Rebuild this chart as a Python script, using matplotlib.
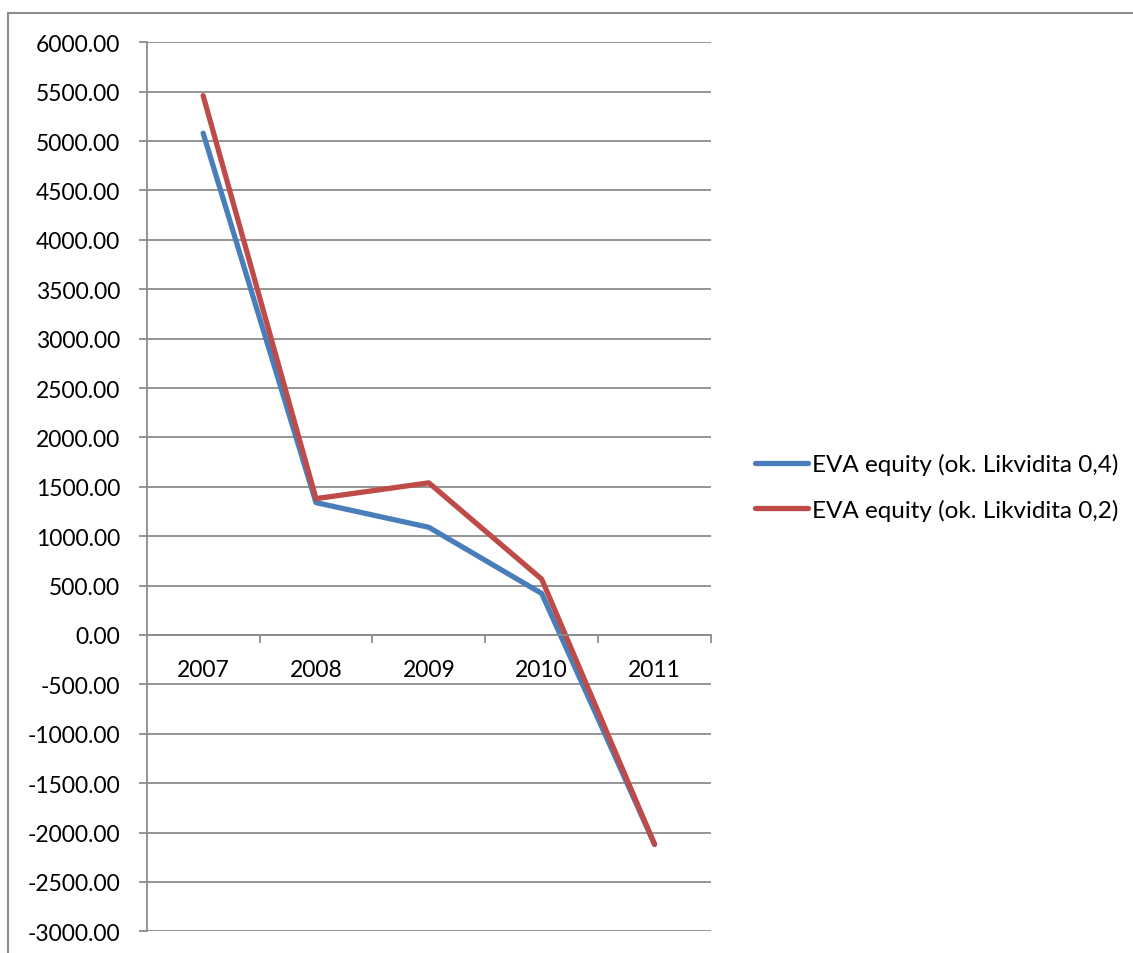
"""
EVA equity for two liquidity ratio settings, 2007-2011.
"""

import matplotlib
matplotlib.use('Agg')
import matplotlib.pyplot as plt
from matplotlib.patches import Rectangle
from matplotlib.ticker import FixedLocator, FuncFormatter

# Data
years = ['2007', '2008', '2009', '2010', '2011']
eva_liq_04 = [5080, 1340, 1090, 420, -2120]
eva_liq_02 = [5460, 1380, 1540, 565, -2120]
series_labels = ['EVA equity (ok. Likvidita 0,4)', 'EVA equity (ok. Likvidita 0,2)']
y_ticks = list(range(-3000, 6001, 500))

BLUE = '#4A7EBB'
RED = '#BE4B48'
GRID = '#8C8C8C'

plt.rcParams['font.family'] = ['Lato', 'DejaVu Sans']
FS = 16.5

W, H = 1133, 954
fig = plt.figure(figsize=(W / 100, H / 100), dpi=100)

# Chart-area border (cut off at right and bottom)
fig.patches.append(Rectangle((8 / W, -0.1), 1.2, 1 - 14 / H + 0.1,
                             transform=fig.transFigure, fill=False,
                             edgecolor='#8C8C8C', linewidth=1.5))

left, right, top, bottom = 146.7, 711, 43.3, 932.3
ax = fig.add_axes([left / W, 1 - bottom / H, (right - left) / W, (bottom - top) / H])

x = list(range(len(years)))
l1, = ax.plot(x, eva_liq_04, color=BLUE, lw=3.8, solid_capstyle='round',
              solid_joinstyle='round', label=series_labels[0])
l2, = ax.plot(x, eva_liq_02, color=RED, lw=3.8, solid_capstyle='round',
              solid_joinstyle='round', label=series_labels[1])

ax.set_xlim(-0.5, len(years) - 0.5)
ax.set_ylim(y_ticks[0], y_ticks[-1])

# Horizontal gridlines
ax.yaxis.set_major_locator(FixedLocator(y_ticks))
ax.yaxis.set_major_formatter(FuncFormatter(lambda v, p: f'{v:.2f}'))
ax.grid(axis='y', color=GRID, linewidth=1.3)
ax.set_axisbelow(True)
ax.tick_params(axis='y', length=6, width=1.3, color=GRID, pad=13, labelsize=FS)

# Category axis sits at zero
for s in ['top', 'right']:
    ax.spines[s].set_visible(False)
ax.spines['left'].set_color(GRID)
ax.spines['left'].set_linewidth(1.3)
ax.spines['bottom'].set_position(('data', 0))
ax.spines['bottom'].set_color(GRID)
ax.spines['bottom'].set_linewidth(1.3)

ax.xaxis.set_major_locator(FixedLocator([i + 0.5 for i in x]))
ax.xaxis.set_major_formatter(FuncFormatter(lambda v, p: ''))
ax.tick_params(axis='x', which='major', length=6, width=1.3, color=GRID)
ax.xaxis.set_minor_locator(FixedLocator(x))
ax.set_xticklabels(years, minor=True)
ax.tick_params(axis='x', which='minor', length=0, pad=17, labelsize=FS)

fig.legend(handles=[l1, l2], loc='center left',
           bbox_to_anchor=(733 / W, 1 - 488 / H), frameon=False,
           fontsize=17.5, handlelength=2.2, handletextpad=0.15,
           labelspacing=0.95)

fig.savefig('out.png', dpi=100)
